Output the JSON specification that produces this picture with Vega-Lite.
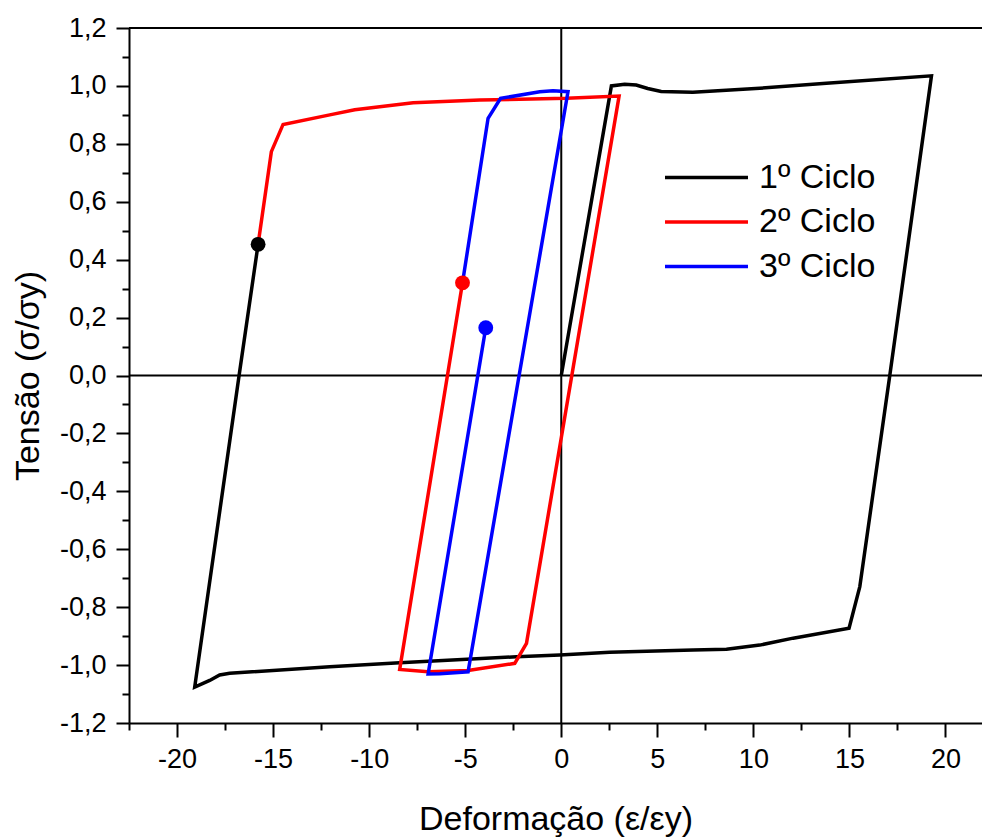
{
  "$schema": "https://vega.github.io/schema/vega-lite/v6.json",
  "width": 853,
  "height": 695,
  "autosize": "none",
  "padding": {"left": 129, "top": 28, "right": 0, "bottom": 114},
  "background": "white",
  "config": {
    "view": {"stroke": null},
    "font": "Liberation Sans",
    "axis": {
      "grid": false,
      "domainColor": "black",
      "domainWidth": 2,
      "tickColor": "black",
      "tickWidth": 2,
      "labelFont": "Liberation Sans",
      "labelFontSize": 27,
      "labelColor": "black",
      "titleFont": "Liberation Sans",
      "titleFontSize": 34,
      "titleFontWeight": "normal",
      "titleColor": "black"
    },
    "legend": {
      "orient": "none",
      "legendX": 559,
      "legendY": 131,
      "symbolType": "M-2.5,0H2.5",
      "symbolSize": 1102,
      "symbolStrokeWidth": 3.5,
      "labelFont": "Liberation Sans",
      "labelFontSize": 34,
      "labelColor": "black",
      "rowPadding": 8.5,
      "labelOffset": 34,
      "padding": 0
    }
  },
  "datasets": {
    "curves": [
      {"ciclo": "1º Ciclo", "i": 0, "x": 0, "y": 0},
      {"ciclo": "1º Ciclo", "i": 1, "x": 2.61, "y": 1.0},
      {"ciclo": "1º Ciclo", "i": 2, "x": 3.3, "y": 1.006},
      {"ciclo": "1º Ciclo", "i": 3, "x": 3.9, "y": 1.003},
      {"ciclo": "1º Ciclo", "i": 4, "x": 4.5, "y": 0.991},
      {"ciclo": "1º Ciclo", "i": 5, "x": 5.2, "y": 0.981},
      {"ciclo": "1º Ciclo", "i": 6, "x": 6.85, "y": 0.978},
      {"ciclo": "1º Ciclo", "i": 7, "x": 10.33, "y": 0.992},
      {"ciclo": "1º Ciclo", "i": 8, "x": 13.8, "y": 1.009},
      {"ciclo": "1º Ciclo", "i": 9, "x": 19.27, "y": 1.035},
      {"ciclo": "1º Ciclo", "i": 10, "x": 17.1, "y": 0},
      {"ciclo": "1º Ciclo", "i": 11, "x": 15.54, "y": -0.729},
      {"ciclo": "1º Ciclo", "i": 12, "x": 14.98, "y": -0.873},
      {"ciclo": "1º Ciclo", "i": 13, "x": 12.07, "y": -0.907},
      {"ciclo": "1º Ciclo", "i": 14, "x": 10.33, "y": -0.931},
      {"ciclo": "1º Ciclo", "i": 15, "x": 8.6, "y": -0.945},
      {"ciclo": "1º Ciclo", "i": 16, "x": 6.86, "y": -0.948},
      {"ciclo": "1º Ciclo", "i": 17, "x": 2.52, "y": -0.956},
      {"ciclo": "1º Ciclo", "i": 18, "x": -0.08, "y": -0.965},
      {"ciclo": "1º Ciclo", "i": 19, "x": -2.33, "y": -0.971},
      {"ciclo": "1º Ciclo", "i": 20, "x": -8.41, "y": -0.992},
      {"ciclo": "1º Ciclo", "i": 21, "x": -12.05, "y": -1.006},
      {"ciclo": "1º Ciclo", "i": 22, "x": -17.26, "y": -1.028},
      {"ciclo": "1º Ciclo", "i": 23, "x": -17.78, "y": -1.034},
      {"ciclo": "1º Ciclo", "i": 24, "x": -18.3, "y": -1.053},
      {"ciclo": "1º Ciclo", "i": 25, "x": -19.08, "y": -1.076},
      {"ciclo": "1º Ciclo", "i": 26, "x": -16.77, "y": 0},
      {"ciclo": "1º Ciclo", "i": 27, "x": -15.78, "y": 0.453},
      {"ciclo": "2º Ciclo", "i": 0, "x": -15.78, "y": 0.453},
      {"ciclo": "2º Ciclo", "i": 1, "x": -15.09, "y": 0.773},
      {"ciclo": "2º Ciclo", "i": 2, "x": -14.48, "y": 0.867},
      {"ciclo": "2º Ciclo", "i": 3, "x": -12.05, "y": 0.9},
      {"ciclo": "2º Ciclo", "i": 4, "x": -10.75, "y": 0.918},
      {"ciclo": "2º Ciclo", "i": 5, "x": -9.45, "y": 0.928},
      {"ciclo": "2º Ciclo", "i": 6, "x": -7.71, "y": 0.942},
      {"ciclo": "2º Ciclo", "i": 7, "x": -4.24, "y": 0.951},
      {"ciclo": "2º Ciclo", "i": 8, "x": 0.27, "y": 0.957},
      {"ciclo": "2º Ciclo", "i": 9, "x": 3.01, "y": 0.965},
      {"ciclo": "2º Ciclo", "i": 10, "x": -1.81, "y": -0.925},
      {"ciclo": "2º Ciclo", "i": 11, "x": -2.42, "y": -0.994},
      {"ciclo": "2º Ciclo", "i": 12, "x": -4.85, "y": -1.019},
      {"ciclo": "2º Ciclo", "i": 13, "x": -6.93, "y": -1.023},
      {"ciclo": "2º Ciclo", "i": 14, "x": -8.41, "y": -1.015},
      {"ciclo": "2º Ciclo", "i": 15, "x": -5.14, "y": 0.32},
      {"ciclo": "3º Ciclo", "i": 0, "x": -5.14, "y": 0.32},
      {"ciclo": "3º Ciclo", "i": 1, "x": -3.81, "y": 0.888},
      {"ciclo": "3º Ciclo", "i": 2, "x": -3.16, "y": 0.957},
      {"ciclo": "3º Ciclo", "i": 3, "x": -1.12, "y": 0.98},
      {"ciclo": "3º Ciclo", "i": 4, "x": -0.43, "y": 0.983},
      {"ciclo": "3º Ciclo", "i": 5, "x": 0.35, "y": 0.98},
      {"ciclo": "3º Ciclo", "i": 6, "x": -4.85, "y": -1.023},
      {"ciclo": "3º Ciclo", "i": 7, "x": -6.32, "y": -1.03},
      {"ciclo": "3º Ciclo", "i": 8, "x": -6.93, "y": -1.031},
      {"ciclo": "3º Ciclo", "i": 9, "x": -3.93, "y": 0.165}
    ],
    "dots": [
      {"ciclo": "1º Ciclo", "x": -15.78, "y": 0.453},
      {"ciclo": "2º Ciclo", "x": -5.14, "y": 0.32},
      {"ciclo": "3º Ciclo", "x": -3.93, "y": 0.165}
    ],
    "hlines": [{"v": 0}, {"v": 1.2}],
    "vlines": [{"v": 0}]
  },
  "layer": [
    {
      "data": {"name": "hlines"},
      "mark": {"type": "rule", "color": "black", "strokeWidth": 2},
      "encoding": {
        "y": {
          "field": "v", "type": "quantitative",
          "scale": {"domain": [-1.2, 1.2], "nice": false, "zero": false},
          "axis": {"orient": "left", "values": [-1.1, -0.9, -0.7, -0.5, -0.3, -0.1, 0.1, 0.3, 0.5, 0.7, 0.9, 1.1], "labels": false, "tickSize": 7, "title": null, "domain": false}
        }
      }
    },
    {
      "data": {"name": "vlines"},
      "mark": {"type": "rule", "color": "black", "strokeWidth": 2},
      "encoding": {
        "x": {
          "field": "v", "type": "quantitative",
          "scale": {"domain": [-22.5, 21.9], "nice": false, "zero": false},
          "axis": {"orient": "bottom", "values": [-22.5, -17.5, -12.5, -7.5, -2.5, 2.5, 7.5, 12.5, 17.5], "labels": false, "tickSize": 7, "title": null, "domain": false}
        }
      }
    },
    {
      "data": {"name": "curves"},
      "mark": {"type": "line", "strokeWidth": 3.5, "strokeJoin": "miter"},
      "encoding": {
        "x": {
          "field": "x", "type": "quantitative",
          "scale": {"domain": [-22.5, 21.9], "nice": false, "zero": false},
          "axis": {
            "orient": "bottom",
            "values": [-20, -15, -10, -5, 0, 5, 10, 15, 20],
            "tickSize": 14,
            "labelPadding": 9,
            "labelExpr": "replace(format(datum.value, 'd'), '\u2212', '-')",
            "title": "Deformação (ε/εy)",
            "titlePadding": 30
          }
        },
        "y": {
          "field": "y", "type": "quantitative",
          "scale": {"domain": [-1.2, 1.2], "nice": false, "zero": false},
          "axis": {
            "orient": "left",
            "values": [-1.2, -1.0, -0.8, -0.6, -0.4, -0.2, 0, 0.2, 0.4, 0.6, 0.8, 1.0, 1.2],
            "tickSize": 13,
            "labelPadding": 10,
            "labelExpr": "replace(replace(format(datum.value, '.1f'), '\u2212', '-'), '.', ',')",
            "title": "Tensão (σ/σy)",
            "titlePadding": 14
          }
        },
        "color": {
          "field": "ciclo", "type": "nominal",
          "scale": {"domain": ["1º Ciclo", "2º Ciclo", "3º Ciclo"], "range": ["#000000", "#ff0000", "#0000ff"]},
          "legend": {"title": null}
        },
        "order": {"field": "i", "type": "quantitative"}
      }
    },
    {
      "data": {"name": "dots"},
      "mark": {"type": "point", "filled": true, "opacity": 1, "size": 220, "shape": "circle"},
      "encoding": {
        "x": {"field": "x", "type": "quantitative", "scale": {"domain": [-22.5, 21.9], "nice": false, "zero": false}, "axis": null},
        "y": {"field": "y", "type": "quantitative", "scale": {"domain": [-1.2, 1.2], "nice": false, "zero": false}, "axis": null},
        "fill": {
          "field": "ciclo", "type": "nominal",
          "scale": {"domain": ["1º Ciclo", "2º Ciclo", "3º Ciclo"], "range": ["#000000", "#ff0000", "#0000ff"]},
          "legend": null
        }
      }
    }
  ],
  "resolve": {"axis": {"x": "independent", "y": "independent"}}
}
